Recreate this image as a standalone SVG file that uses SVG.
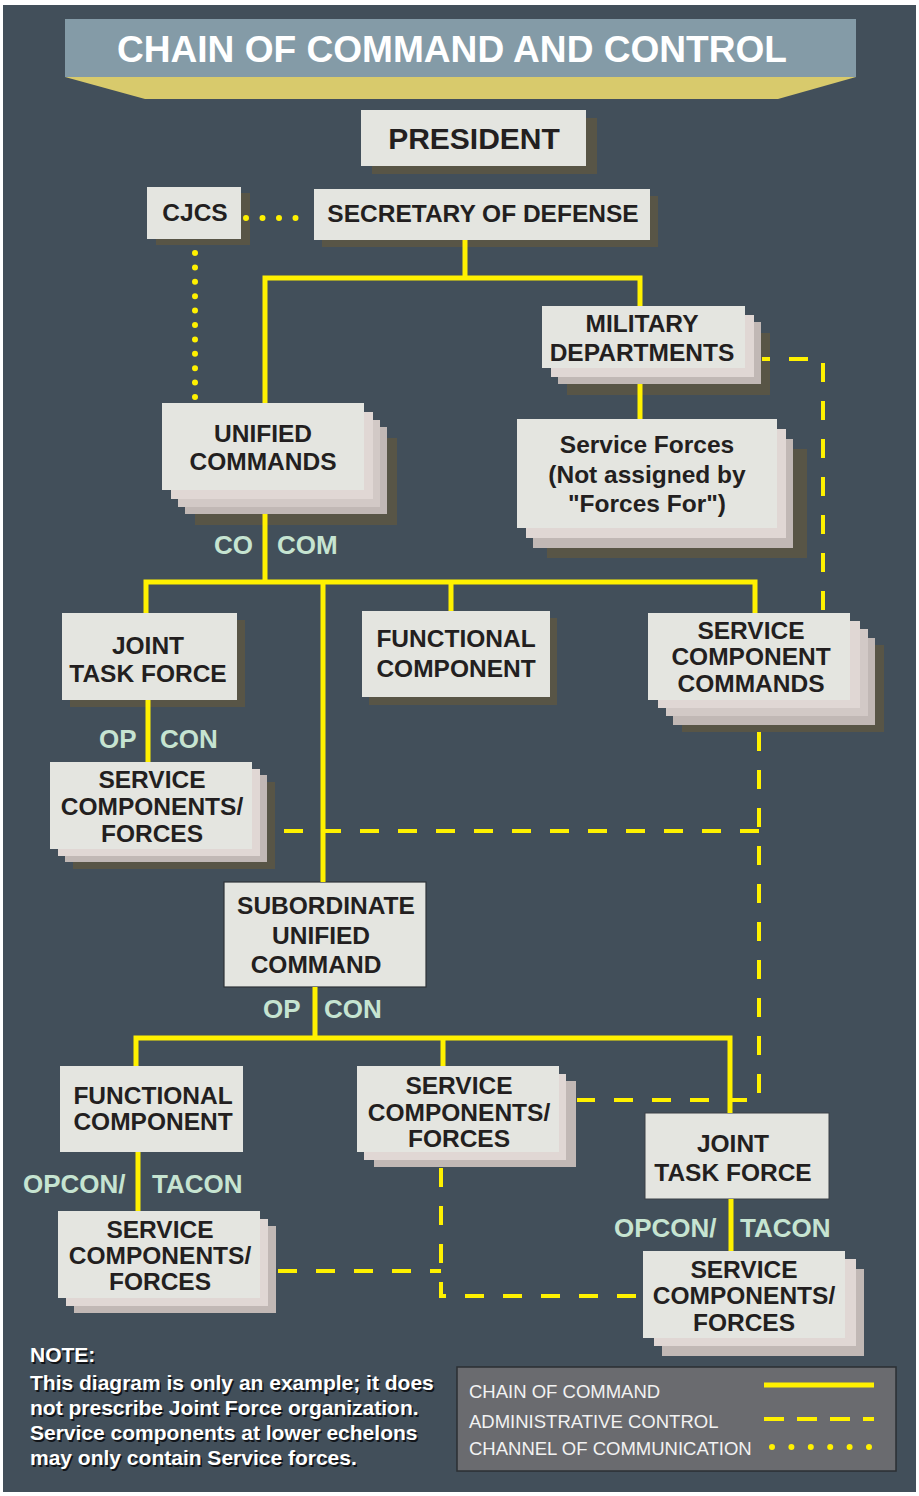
<svg xmlns="http://www.w3.org/2000/svg" width="919" height="1496" viewBox="0 0 919 1496">
<style>
.t{font-family:"Liberation Sans",Arial,sans-serif;font-weight:bold;fill:#231f20;text-anchor:middle;font-size:24.5px}
.lb{font-family:"Liberation Sans",Arial,sans-serif;font-weight:bold;fill:#c6e4d1;font-size:26px}
.m{fill:#e4e5e0}
.p{fill:#e0d7d4}
.q{fill:#d2c9c6}
.g{fill:#c1b8b5}
.d{fill:#585546}
.solid{fill:none;stroke:#fff100;stroke-width:5}
.dash{fill:none;stroke:#fff100;stroke-width:4;stroke-dasharray:19 19}
.dot{fill:none;stroke:#fff100;stroke-width:6;stroke-linecap:round}
.note{font-family:"Liberation Sans",Arial,sans-serif;font-weight:bold;font-size:21px}
.leg{font-family:"Liberation Sans",Arial,sans-serif;font-size:18.5px;fill:#f2f2f2}
</style>
<rect x="0" y="0" width="919" height="1496" fill="#ffffff"/>
<rect x="3" y="5" width="913" height="1487" fill="#424f5a"/>

<g id="title">
<polygon points="65,77 856,77 778,99 145,99" fill="#d8ca6c"/>
<rect x="65" y="19" width="791" height="58" fill="#849ba7"/>
<text x="452" y="62" textLength="670" lengthAdjust="spacingAndGlyphs" font-family="Liberation Sans, Arial, sans-serif" font-weight="bold" font-size="37" fill="#ffffff" text-anchor="middle">CHAIN OF COMMAND AND CONTROL</text>
</g>

<g id="president">
<rect class="d" x="372" y="118" width="225" height="56"/>
<rect class="m" x="361" y="110" width="225" height="56"/>
<text class="t" x="474" y="149" style="font-size:30px">PRESIDENT</text>
</g>

<g id="cjcs">
<rect class="d" x="156" y="193" width="94" height="52"/>
<rect class="m" x="147" y="187" width="94" height="52"/>
<text class="t" x="195" y="221">CJCS</text>
</g>

<g id="secdef">
<rect class="d" x="322" y="196" width="336" height="51"/>
<rect class="m" x="314" y="189" width="336" height="51"/>
<text class="t" x="483" y="222">SECRETARY OF DEFENSE</text>
</g>

<g id="military-departments">
<rect class="d" x="567" y="333" width="203" height="62"/>
<rect class="g" x="558" y="322" width="203" height="62"/>
<rect class="p" x="551" y="315" width="203" height="62"/>
<rect class="m" x="542" y="306" width="203" height="62"/>
<text class="t" x="642" y="332">MILITARY</text>
<text class="t" x="642" y="361">DEPARTMENTS</text>
</g>

<g id="service-forces">
<rect class="d" x="547" y="449" width="260" height="109"/>
<rect class="g" x="533" y="439" width="260" height="109"/>
<rect class="p" x="526" y="429" width="260" height="109"/>
<rect class="m" x="517" y="419" width="260" height="109"/>
<text class="t" x="647" y="453">Service Forces</text>
<text class="t" x="647" y="483">(Not assigned by</text>
<text class="t" x="647" y="512">"Forces For")</text>
</g>

<g id="unified-commands">
<rect class="d" x="195" y="438" width="202" height="87"/>
<rect class="g" x="185" y="427" width="202" height="87"/>
<rect class="q" x="178" y="420" width="202" height="87"/>
<rect class="p" x="171" y="412" width="202" height="87"/>
<rect class="m" x="162" y="403" width="202" height="87"/>
<text class="t" x="263" y="442">UNIFIED</text>
<text class="t" x="263" y="470">COMMANDS</text>
</g>

<g id="label-cocom">
<text class="lb" x="214" y="554">CO</text>
<text class="lb" x="277" y="554">COM</text>
</g>

<g id="jtf-upper">
<rect class="d" x="70" y="620" width="175" height="87"/>
<rect class="m" x="62" y="613" width="175" height="87"/>
<text class="t" x="148" y="654">JOINT</text>
<text class="t" x="148" y="682">TASK FORCE</text>
</g>

<g id="functional-component-upper">
<rect class="d" x="369" y="618" width="188" height="87"/>
<rect class="m" x="362" y="611" width="188" height="86"/>
<text class="t" x="456" y="647">FUNCTIONAL</text>
<text class="t" x="456" y="677">COMPONENT</text>
</g>

<g id="service-component-commands">
<rect class="d" x="682" y="645" width="202" height="87"/>
<rect class="g" x="673" y="638" width="202" height="87"/>
<rect class="q" x="666" y="629" width="202" height="87"/>
<rect class="p" x="658" y="621" width="202" height="87"/>
<rect class="m" x="648" y="613" width="202" height="87"/>
<text class="t" x="751" y="639">SERVICE</text>
<text class="t" x="751" y="665">COMPONENT</text>
<text class="t" x="751" y="692">COMMANDS</text>
</g>

<g id="label-opcon-1">
<text class="lb" x="99" y="748">OP</text>
<text class="lb" x="160" y="748">CON</text>
</g>

<g id="scf-upper">
<rect class="d" x="73" y="782" width="202" height="87"/>
<rect class="g" x="65" y="775" width="202" height="87"/>
<rect class="p" x="58" y="769" width="202" height="87"/>
<rect class="m" x="50" y="762" width="202" height="87"/>
<text class="t" x="152" y="788">SERVICE</text>
<text class="t" x="152" y="815">COMPONENTS/</text>
<text class="t" x="152" y="842">FORCES</text>
</g>

<g id="subordinate-unified-command">
<rect class="m" x="224" y="882" width="202" height="105" stroke="#2e3338" stroke-width="1.2"/>
<text class="t" x="326" y="914">SUBORDINATE</text>
<text class="t" x="321" y="944">UNIFIED</text>
<text class="t" x="316" y="973">COMMAND</text>
</g>

<g id="label-opcon-2">
<text class="lb" x="263" y="1018">OP</text>
<text class="lb" x="324" y="1018">CON</text>
</g>

<g id="functional-component-lower">
<rect class="m" x="60" y="1066" width="183" height="86"/>
<text class="t" x="153" y="1104">FUNCTIONAL</text>
<text class="t" x="153" y="1130">COMPONENT</text>
</g>

<g id="scf-middle">
<rect class="g" x="374" y="1081" width="202" height="86"/>
<rect class="p" x="364" y="1074" width="202" height="86"/>
<rect class="m" x="357" y="1066" width="202" height="86"/>
<text class="t" x="459" y="1094">SERVICE</text>
<text class="t" x="459" y="1121">COMPONENTS/</text>
<text class="t" x="459" y="1147">FORCES</text>
</g>

<g id="jtf-lower">
<rect class="m" x="645" y="1113" width="184" height="86" stroke="#3a4046" stroke-width="1"/>
<text class="t" x="733" y="1152">JOINT</text>
<text class="t" x="733" y="1181">TASK FORCE</text>
</g>

<g id="label-opcon-tacon-1">
<text class="lb" x="23" y="1193">OPCON/</text>
<text class="lb" x="152" y="1193">TACON</text>
</g>

<g id="label-opcon-tacon-2">
<text class="lb" x="614" y="1237">OPCON/</text>
<text class="lb" x="740" y="1237">TACON</text>
</g>

<g id="scf-lower-left">
<rect class="g" x="74" y="1226" width="202" height="87"/>
<rect class="p" x="66" y="1219" width="202" height="87"/>
<rect class="m" x="58" y="1211" width="202" height="87"/>
<text class="t" x="160" y="1238">SERVICE</text>
<text class="t" x="160" y="1264">COMPONENTS/</text>
<text class="t" x="160" y="1290">FORCES</text>
</g>

<g id="scf-lower-right">
<rect class="g" x="662" y="1269" width="202" height="87"/>
<rect class="p" x="654" y="1259" width="202" height="87"/>
<rect class="m" x="643" y="1251" width="202" height="87"/>
<text class="t" x="744" y="1278">SERVICE</text>
<text class="t" x="744" y="1304">COMPONENTS/</text>
<text class="t" x="744" y="1331">FORCES</text>
</g>

<g id="connectors">
<path class="solid" d="M465,240 V278 M265,403 V278 H640 V306 M640,384 V419 M265,514 V582 M146,613 V582 H755 V613 M323,582 V882 M451,582 V611 M148,700 V762 M315,987 V1038 M136,1066 V1038 H730 V1113 M443,1038 V1066 M138,1152 V1211 M731,1199 V1251"/>
<path class="dash" stroke-dashoffset="11" d="M762,359 H823 V613"/>
<path class="dash" d="M759,732 V1100 H577"/>
<path class="dash" d="M759,831 H268"/>
<path class="dash" d="M441,1168 V1296 H643"/>
<path class="dash" d="M278,1271 H441"/>
<path class="dot" stroke-dasharray="0 16.5" d="M246,218 H312"/>
<path class="dot" stroke-dasharray="0 14.4" d="M195,253 V397"/>
</g>

<g id="note">
<g fill="#111418" transform="translate(1.5,1.5)">
<text class="note" x="30" y="1362">NOTE:</text>
<text class="note" x="30" y="1390">This diagram is only an example; it does</text>
<text class="note" x="30" y="1415">not prescribe Joint Force organization.</text>
<text class="note" x="30" y="1440">Service components at lower echelons</text>
<text class="note" x="30" y="1465">may only contain Service forces.</text>
</g>
<g fill="#ffffff">
<text class="note" x="30" y="1362">NOTE:</text>
<text class="note" x="30" y="1390">This diagram is only an example; it does</text>
<text class="note" x="30" y="1415">not prescribe Joint Force organization.</text>
<text class="note" x="30" y="1440">Service components at lower echelons</text>
<text class="note" x="30" y="1465">may only contain Service forces.</text>
</g>
</g>

<g id="legend">
<rect x="457" y="1367" width="439" height="104" fill="#6a6b6f" stroke="#2b2f33" stroke-width="1.5"/>
<text class="leg" x="469" y="1398">CHAIN OF COMMAND</text>
<text class="leg" x="469" y="1428">ADMINISTRATIVE CONTROL</text>
<text class="leg" x="469" y="1455">CHANNEL OF COMMUNICATION</text>
<path d="M764,1385 H874" fill="none" stroke="#fff100" stroke-width="5"/>
<path d="M764,1419 H874" fill="none" stroke="#fff100" stroke-width="4" stroke-dasharray="20 13"/>
<path d="M772,1447 H869" fill="none" stroke="#fff100" stroke-width="6" stroke-linecap="round" stroke-dasharray="0 19.4"/>
</g>
</svg>
